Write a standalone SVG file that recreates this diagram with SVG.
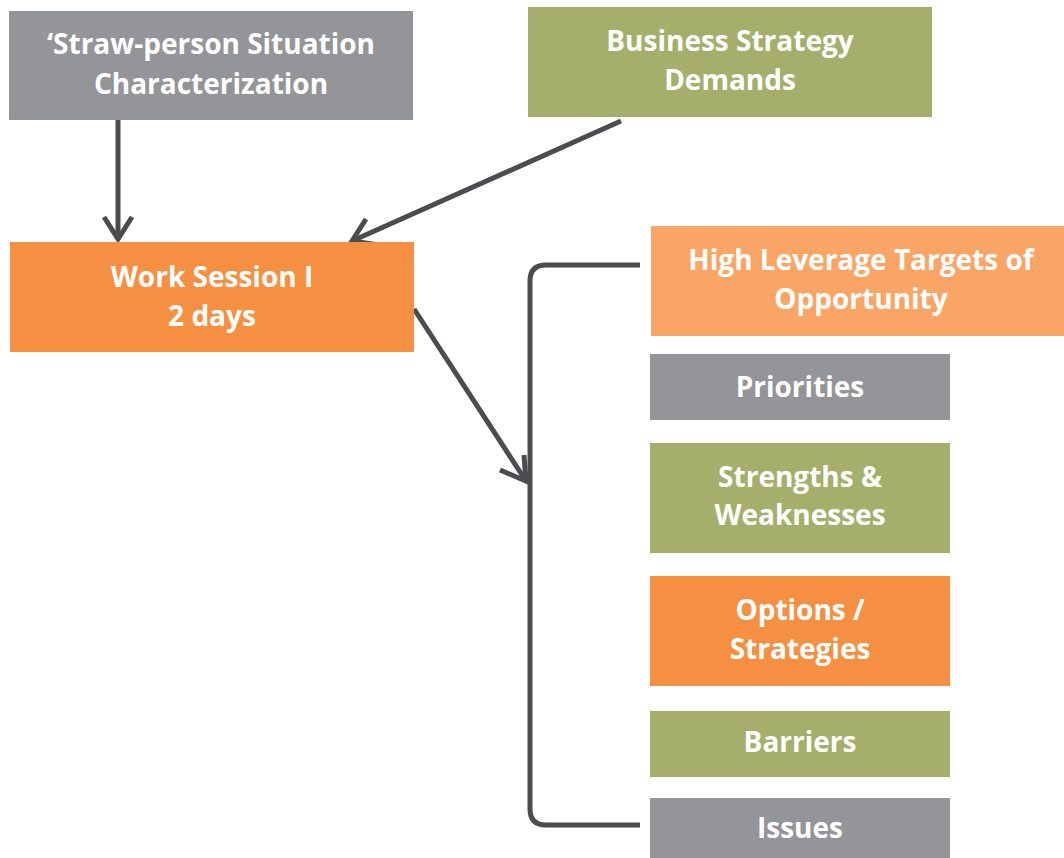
<svg xmlns="http://www.w3.org/2000/svg" width="1064" height="858" viewBox="0 0 1064 858">
  <style>
    .label { font-family: "Open Sans", "Liberation Sans", sans-serif; font-weight: 700; font-size: 28px; fill: #ffffff; text-anchor: middle; }
    .gray { fill: #939598; }
    .green { fill: #A5AF6B; }
    .orange { fill: #F58F41; }
    .light { fill: #F8A565; }
    .wire { fill: none; stroke: #4B4C50; stroke-width: 5; stroke-linecap: butt; stroke-linejoin: miter; }
  </style>
  <rect width="1064" height="858" fill="#ffffff"/>

  <g id="connectors">
    <!-- straw-person to work session -->
    <path class="wire" d="M118 120 V239"/>
    <path class="wire" d="M104 217 L118 239 L132 217"/>
    <!-- business strategy to work session -->
    <path class="wire" d="M621 121 L352 241"/>
    <path class="wire" d="M366 219 L352 241 L379 245"/>
    <!-- work session to bracket -->
    <path class="wire" d="M414 309 L526 481"/>
    <path class="wire" d="M500 470 L526 481 L524 455"/>
    <!-- bracket spanning the outcome boxes -->
    <path class="wire" d="M640 265 H546 Q530 265 530 281 V809 Q530 825 546 825 H640"/>
  </g>

  <g id="straw-person">
    <rect class="gray" x="9" y="11" width="404" height="109"/>
    <text class="label" x="211" y="54">‘Straw-person Situation</text>
    <text class="label" x="211" y="94">Characterization</text>
  </g>

  <g id="business-strategy">
    <rect class="green" x="528" y="7" width="404" height="110"/>
    <text class="label" x="730" y="51">Business Strategy</text>
    <text class="label" x="730" y="90">Demands</text>
  </g>

  <g id="work-session">
    <rect class="orange" x="10" y="242" width="404" height="110"/>
    <text class="label" x="212" y="287">Work Session I</text>
    <text class="label" x="212" y="326">2 days</text>
  </g>

  <g id="high-leverage">
    <rect class="light" x="651" y="226" width="413" height="110"/>
    <text class="label" x="861" y="270">High Leverage Targets of</text>
    <text class="label" x="861" y="309">Opportunity</text>
  </g>

  <g id="priorities">
    <rect class="gray" x="650" y="354" width="300" height="66"/>
    <text class="label" x="800" y="397">Priorities</text>
  </g>

  <g id="strengths">
    <rect class="green" x="650" y="443" width="300" height="110"/>
    <text class="label" x="800" y="487">Strengths &amp;</text>
    <text class="label" x="800" y="525">Weaknesses</text>
  </g>

  <g id="options">
    <rect class="orange" x="650" y="576" width="300" height="110"/>
    <text class="label" x="800" y="620">Options /</text>
    <text class="label" x="800" y="659">Strategies</text>
  </g>

  <g id="barriers">
    <rect class="green" x="650" y="711" width="300" height="66"/>
    <text class="label" x="800" y="752">Barriers</text>
  </g>

  <g id="issues">
    <rect class="gray" x="650" y="798" width="300" height="60"/>
    <text class="label" x="800" y="838">Issues</text>
  </g>
</svg>
